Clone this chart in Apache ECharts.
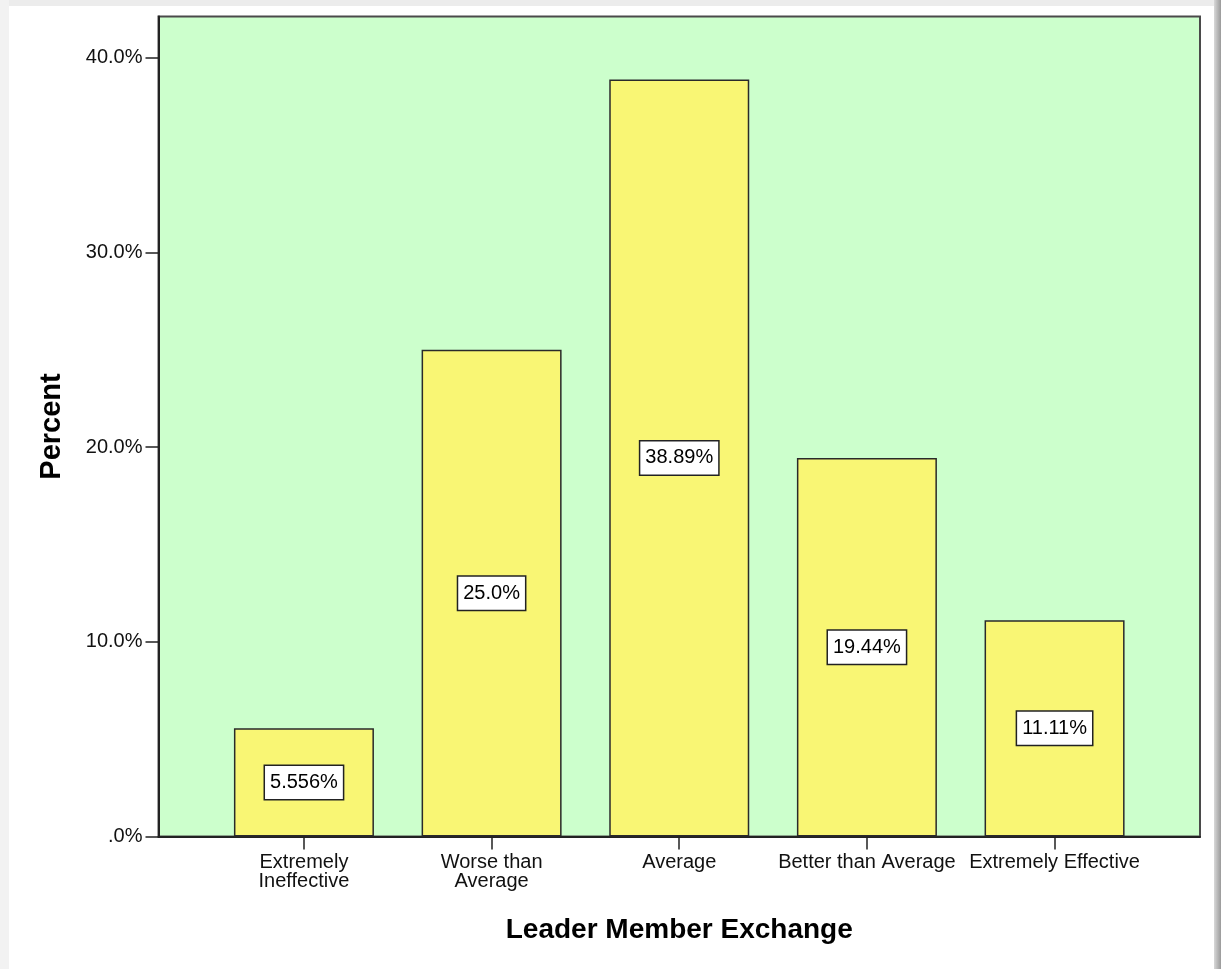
<!DOCTYPE html>
<html><head><meta charset="utf-8">
<script src="https://cdn.jsdelivr.net/npm/echarts@6/dist/echarts.min.js"></script>
<style>
html,body{margin:0;padding:0;background:#fff;}
#frame{position:absolute;left:0;top:0;width:1221px;height:969px;background:#fff;}
#topbar{position:absolute;left:0;top:0;width:1221px;height:6px;background:#ececec;}
#leftbar{position:absolute;left:0;top:0;width:9px;height:969px;background:#f2f2f2;}
#rightbar{position:absolute;left:1214px;top:0;width:7px;height:969px;background:linear-gradient(to right,#d8d8d8,#9a9a9a);}
#chart{position:absolute;left:0;top:0;width:1221px;height:969px;}
</style></head>
<body>
<div id="frame"></div><div id="topbar"></div><div id="leftbar"></div><div id="rightbar"></div>
<div id="chart"></div>
<script>
const categories = ['Extremely\nIneffective', 'Worse than\nAverage', 'Average', 'Better than Average', 'Extremely Effective'];
const percents = [5.556, 25.0, 38.89, 19.44, 11.11];
const valueLabels = ['5.556%', '25.0%', '38.89%', '19.44%', '11.11%'];
const positions = [1, 2, 3, 4, 5];
const yTicks = [0, 10, 20, 30, 40];

const chart = echarts.init(document.getElementById('chart'));
const fontFam = 'Arial, "Liberation Sans", sans-serif';
chart.setOption({
  animation: false,
  grid: {
    left: 158.5, top: 16.5, right: 21, bottom: 132.5,
    show: true, backgroundColor: '#ccffcc', borderColor: '#4a4a4a', borderWidth: 2
  },
  xAxis: {
    type: 'value', min: 0.225, max: 5.775,
    name: 'Leader Member Exchange', nameLocation: 'middle', nameGap: 80,
    nameTextStyle: { fontFamily: fontFam, fontWeight: 'bold', fontSize: 28, color: '#000' },
    axisLine: { show: true, lineStyle: { color: '#222', width: 2 } },
    axisTick: { show: true, customValues: positions, length: 13, lineStyle: { color: '#222', width: 1.5 } },
    axisLabel: {
      customValues: positions, margin: 16,
      fontFamily: fontFam, fontSize: 20, color: '#111', lineHeight: 19,
      formatter: v => categories[Math.round(v) - 1]
    },
    splitLine: { show: false }
  },
  yAxis: {
    type: 'value', min: 0, max: 42.12, interval: 10,
    name: 'Percent', nameLocation: 'middle', nameGap: 92, nameRotate: 90,
    nameTextStyle: { fontFamily: fontFam, fontWeight: 'bold', fontSize: 29, color: '#000' },
    axisLine: { show: true, lineStyle: { color: '#222', width: 2 } },
    axisTick: { show: true, customValues: yTicks, length: 13, lineStyle: { color: '#222', width: 1.5 } },
    axisLabel: {
      customValues: yTicks, margin: 16, fontFamily: fontFam, fontSize: 20, color: '#111',
      formatter: v => (v === 0 ? '.0%' : v.toFixed(1) + '%')
    },
    splitLine: { show: false }
  },
  series: [{
    type: 'bar',
    barWidth: 140,
    data: positions.map((p, i) => [p, percents[i]]),
    itemStyle: { color: '#f9f674', borderColor: '#2a2a2a', borderWidth: 1.5 },
    label: {
      show: true, position: 'inside',
      formatter: p => valueLabels[p.dataIndex],
      fontFamily: fontFam, fontSize: 20, color: '#000',
      backgroundColor: '#fff', borderColor: '#222', borderWidth: 1.5,
      padding: [7, 5, 6, 5]
    }
  }]
});
</script>
</body></html>
